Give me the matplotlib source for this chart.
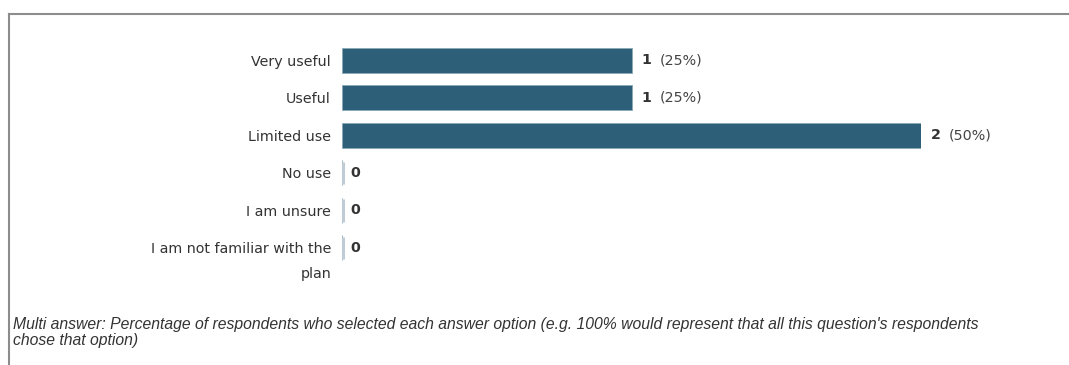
import matplotlib
matplotlib.use('Agg')
import matplotlib.pyplot as plt
from matplotlib.lines import Line2D

categories = ['Very useful', 'Useful', 'Limited use', 'No use', 'I am unsure',
              'I am not familiar with the\nplan']
counts = [1, 1, 2, 0, 0, 0]
percents = ['25%', '25%', '50%', '', '', '']

note = ("Multi answer: Percentage of respondents who selected each answer option "
        "(e.g. 100% would represent that all this question's respondents\nchose that option)")

W, H = 1069, 365
fig = plt.figure(figsize=(W / 100, H / 100), dpi=100)

# axes in pixel coordinates
x0, x1 = 342, 921
y0, y1 = 41.5, 266.5
ax = fig.add_axes([x0 / W, 1 - y1 / H, (x1 - x0) / W, (y1 - y0) / H])

bar_col = '#2e5f78'
fs = 10.3
ypos = list(range(len(categories)))
ax.barh(ypos, counts, height=0.67, color=bar_col, edgecolor='#8aa7b6', linewidth=0.6)
for y, c, p in zip(ypos, counts, percents):
    if c == 0:
        # empty answer: thin marker line at zero
        ax.vlines(0.004, y - 0.3, y + 0.3, color='#bfccd6', linewidth=2.2, clip_on=False)
        ax.annotate('0', (0, y), xytext=(8, 0), textcoords='offset pixels',
                    va='center', ha='left', fontsize=fs, fontweight='bold', color='#333333')
    else:
        ax.annotate(str(c), (c, y), xytext=(10, 0), textcoords='offset pixels',
                    va='center', ha='left', fontsize=fs, fontweight='bold', color='#333333')
        ax.annotate('(' + p + ')', (c, y), xytext=(28, 0), textcoords='offset pixels',
                    va='center', ha='left', fontsize=fs, color='#444444')

ax.set_xlim(0, 2)
ax.set_ylim(len(categories) - 0.5, -0.5)
ax.set_yticks(ypos)
ax.set_yticklabels([c.split('\n')[0] for c in categories], fontsize=fs, color='#333333')
ax.tick_params(axis='y', length=0, pad=8)
ax.set_xticks([])
for s in ax.spines.values():
    s.set_visible(False)
ax.patch.set_alpha(0)

# second line of the wrapped label
fig.text(331 / W, 1 - 274 / H, categories[-1].split('\n')[1], ha='right', va='center',
         fontsize=fs, color='#333333')

# outer frame
fig.add_artist(Line2D([9 / W, 1], [1 - 14 / H, 1 - 14 / H], color='#8c8c8c', linewidth=1.5,
                      transform=fig.transFigure))
fig.add_artist(Line2D([9 / W, 9 / W], [0, 1 - 14 / H], color='#8c8c8c', linewidth=1.5,
                      transform=fig.transFigure))

fig.text(13 / W, 1 - 317 / H, note, ha='left', va='top', fontsize=11.3, style='italic',
         family=['Liberation Sans Narrow', 'Liberation Sans', 'DejaVu Sans'],
         color='#333333', linespacing=1.05)

fig.savefig('out.png', dpi=100)
